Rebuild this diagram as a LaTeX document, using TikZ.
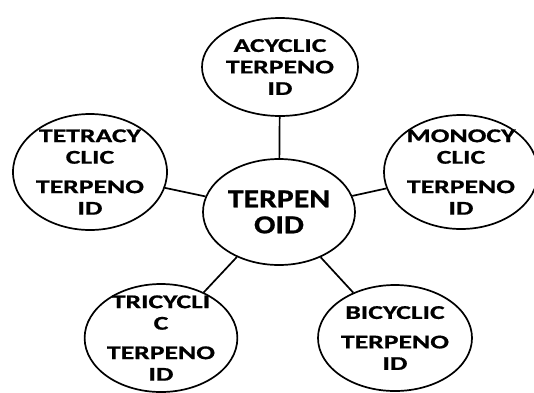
\documentclass[tikz,border=0pt]{standalone}
\usepackage{fontspec}
\newfontfamily\bubblefont[FakeStretch=1.42,FakeBold=0.8]{Carlito}
\newfontfamily\hubfont[FakeStretch=1.22,FakeBold=0.8]{Carlito}
\usetikzlibrary{shapes.geometric}

\begin{document}
\begin{tikzpicture}[
            x=1pt,y=-1pt,
            every node/.append style={ellipse,draw,black,line width=1.7pt,inner sep=0pt,inner ysep=-12pt,align=center,
                font=\bubblefont\bfseries\fontsize{19.5}{21.5}\selectfont},
            every path/.append style={black,line width=1.7pt}
        ]
            \useasboundingbox (0,0) rectangle (534,392);

            \node[minimum width=152,minimum height=106,font=\hubfont\bfseries\fontsize{26}{26}\selectfont] (terpenoid) at (279,212) {TERPEN\\OID};
            \node[minimum width=156,minimum height=98] (acyclic) at (280,67) {ACYCLIC\\TERPENO\\ID};
            \node[minimum width=144,minimum height=114] (monocyclic) at (461,172) {MONOCY\\CLIC\\[8pt]TERPENO\\ID};
            \node[minimum width=154,minimum height=106] (bicyclic) at (395,338) {BICYCLIC\\[8pt]TERPENO\\ID};
            \node[minimum width=152,minimum height=108] (tricyclic) at (161,338) {TRICYCLI\\C\\[8pt]TERPENO\\ID};
            \node[minimum width=154,minimum height=116] (tetracyclic) at (90,172) {TETRACY\\CLIC\\[8pt]TERPENO\\ID};

            \foreach \leaf in {acyclic,monocyclic,bicyclic,tricyclic,tetracyclic}
                \draw (terpenoid) -- (\leaf);
        \end{tikzpicture}
\end{document}
